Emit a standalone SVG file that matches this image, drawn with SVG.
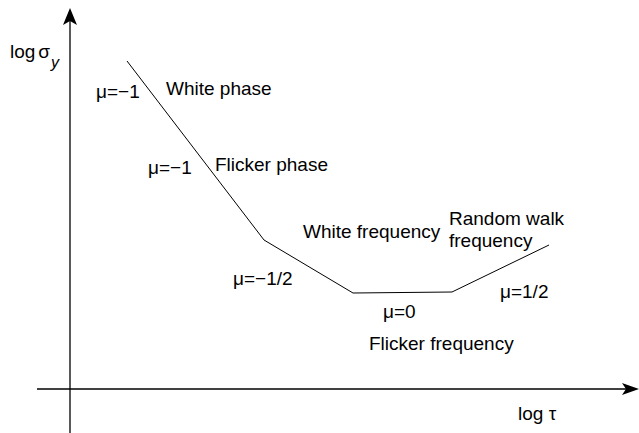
<svg xmlns="http://www.w3.org/2000/svg" width="639" height="433" viewBox="0 0 639 433">
<style>
text{font-family:"Liberation Sans",Arial,sans-serif;font-size:19px;fill:#000}
.ax{stroke:#000;stroke-width:1.3;fill:none}
.cv{stroke:#000;stroke-width:1;fill:none}
</style>
<rect width="639" height="433" fill="#fff"/>
<g id="axes">
<line class="ax" x1="70" y1="20" x2="70" y2="433"/>
<path d="M70,8 L63,25 L70,21 L77,25 Z" fill="#000"/>
<line class="ax" x1="37" y1="389" x2="628" y2="389"/>
<path d="M639,389 L622,383 L626,389 L622,395 Z" fill="#000"/>
</g>
<g id="curve">
<polyline class="cv" points="127,61 264,240 353,293 452,292 549,245"/>
</g>
<g id="labels">
<text x="10" y="58">log<tspan dx="3">σ</tspan><tspan font-style="italic" font-size="16" dx="1" dy="10">y</tspan></text>
<text x="96" y="98">μ=−1</text>
<text x="166" y="95">White phase</text>
<text x="148" y="174">μ=−1</text>
<text x="215" y="171">Flicker phase</text>
<text x="233" y="285">μ=−1/2</text>
<text x="303" y="238">White frequency</text>
<text x="449" y="225">Random walk</text>
<text x="449" y="247">frequency</text>
<text x="383" y="318">μ=0</text>
<text x="500" y="298">μ=1/2</text>
<text x="369" y="350">Flicker frequency</text>
<text x="518" y="420">log τ</text>
</g>
</svg>
